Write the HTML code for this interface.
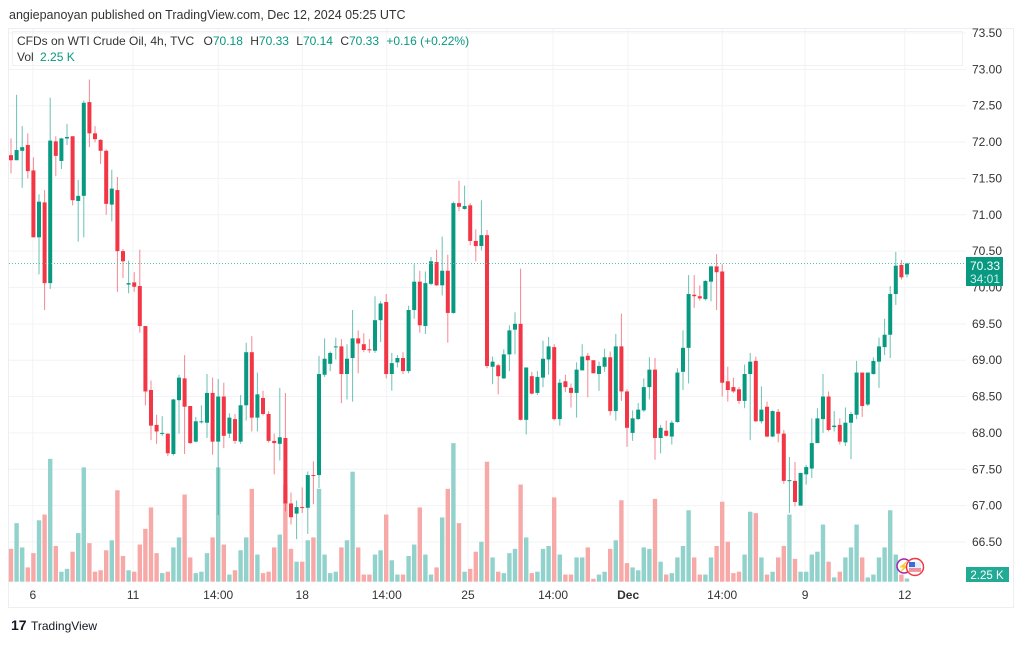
<!DOCTYPE html>
<html><head><meta charset="utf-8">
<style>
html,body{margin:0;padding:0;background:#fff;}
body{width:1024px;height:641px;overflow:hidden;font-family:"Liberation Sans",sans-serif;}
svg text{font-family:"Liberation Sans",sans-serif;}
</style></head>
<body>
<svg id="chart" width="1024" height="641" xmlns="http://www.w3.org/2000/svg">
  <rect x="0" y="0" width="1024" height="641" fill="#fff"/>
  <text x="9" y="19" font-size="12.5" fill="#333">angiepanoyan published on TradingView.com, Dec 12, 2024 05:25 UTC</text>
  <rect x="8.5" y="28.5" width="1005" height="579" fill="none" stroke="#eceef2"/>
  <g id="grid"></g>
  <g id="vols"></g>
  <g id="candles"></g>
  <line id="lastline" x1="9" x2="966" stroke="#4fbfae" stroke-width="1" stroke-dasharray="1,2"/>
  <g id="yaxis"></g>
  <g id="xaxis"></g>
  <g>
    <rect x="12.5" y="31.5" width="950" height="34" fill="none" stroke="#f0f1f4"/>
    <text x="17" y="45" font-size="12" fill="#333">CFDs on WTI Crude Oil, 4h, TVC
      <tspan dx="6">O</tspan><tspan fill="#089981">70.18</tspan>
      <tspan dx="4">H</tspan><tspan fill="#089981">70.33</tspan>
      <tspan dx="4">L</tspan><tspan fill="#089981">70.14</tspan>
      <tspan dx="4">C</tspan><tspan fill="#089981">70.33</tspan>
      <tspan dx="4" fill="#089981">+0.16 (+0.22%)</tspan></text>
    <text x="17" y="61" font-size="12" fill="#333">Vol <tspan dx="3" fill="#089981">2.25 K</tspan></text>
  </g>
  <g>
    <rect x="966" y="257" width="37" height="29" fill="#089981"/>
    <text x="985" y="270" font-size="12" fill="#fff" text-anchor="middle">70.33</text>
    <text x="985" y="283" font-size="12" fill="#cdeee8" text-anchor="middle">34:01</text>
  </g>
  <g>
    <rect x="966" y="567" width="43" height="15" fill="#22ab94"/>
    <text x="987" y="579" font-size="11.5" fill="#fff" text-anchor="middle">2.25 K</text>
  </g>
  <g>
    <circle cx="904" cy="566" r="7" fill="#fff" stroke="#9c27b0" stroke-width="1.5"/>
    <text x="904" y="570" font-size="10" fill="#9c27b0" text-anchor="middle">⚡</text>
    <circle cx="915" cy="567" r="8.5" fill="#fff" stroke="#f23645" stroke-width="1.5"/>
    <rect x="909" y="562" width="12" height="9" fill="#e8eefc"/>
    <rect x="909" y="562" width="6" height="5" fill="#3c6cd8"/>
    <line x1="909" y1="569" x2="921" y2="569" stroke="#f23645"/>
    <line x1="909" y1="571" x2="921" y2="571" stroke="#f23645"/>
  </g>
  <g>
    <text x="11" y="630" font-size="14" font-weight="bold" fill="#131722">17</text>
    <text x="31" y="630" font-size="12" fill="#131722">TradingView</text>
  </g>
</svg>
<script>
const opens=[71.82,71.75,71.88,71.96,71.61,70.69,71.17,70.06,72.01,71.74,72.05,72.08,71.19,71.26,72.55,72.12,72.03,71.88,71.14,71.34,70.50,70.04,70.07,70.02,69.47,68.59,68.11,67.99,67.99,67.71,68.45,68.75,68.37,67.88,68.15,68.14,68.55,67.88,68.50,67.99,68.19,67.88,68.38,69.11,68.21,68.48,68.26,67.89,67.85,67.93,67.03,66.89,66.98,66.97,67.42,67.42,68.80,68.95,69.18,69.19,68.81,69.03,69.30,69.22,69.15,69.13,69.55,69.80,68.81,68.97,69.03,68.85,69.69,70.08,69.47,70.05,70.35,70.03,70.23,69.65,71.16,71.08,71.13,70.64,70.57,70.72,68.91,68.93,68.75,69.08,69.42,69.50,68.18,68.78,68.55,68.76,69.01,69.18,68.19,68.71,68.62,68.55,68.86,69.06,69.00,68.81,68.91,69.04,68.30,69.19,68.57,68.00,68.19,68.31,68.63,68.87,67.93,68.03,67.95,68.15,68.84,69.17,69.90,69.88,69.84,70.08,70.29,70.22,68.71,68.63,68.60,68.44,68.81,68.99,68.16,68.36,67.95,68.29,67.99,67.34,67.34,67.00,67.43,67.51,67.86,68.19,68.50,68.08,68.11,67.87,68.14,68.25,68.83,68.39,68.81,68.98,69.18,69.35,69.91,70.31,70.18];
const highs=[72.05,72.65,72.22,72.12,71.79,71.28,71.34,72.61,72.08,72.06,72.25,72.08,71.48,72.57,72.86,72.22,72.04,71.90,71.62,71.52,70.53,70.37,70.21,70.52,69.47,68.72,68.25,68.23,67.99,68.47,68.80,69.07,68.37,68.22,68.38,68.81,68.76,68.74,68.69,68.27,68.26,68.52,69.24,69.33,68.83,68.58,68.30,67.99,68.62,68.55,67.18,67.07,67.25,67.47,67.61,69.06,69.30,69.12,69.31,69.29,69.22,69.69,69.41,69.37,69.29,69.88,69.81,69.91,69.10,69.07,69.11,69.75,70.32,70.23,70.22,70.42,70.52,70.70,70.45,71.18,71.47,71.40,71.16,70.80,71.20,70.79,69.05,68.95,69.15,69.48,69.66,70.26,68.90,68.84,68.85,69.27,69.32,69.22,68.74,68.80,68.68,68.97,69.22,69.10,69.00,68.98,69.16,69.12,69.36,69.64,68.60,68.31,68.41,68.75,69.04,69.03,68.11,68.17,68.17,68.89,69.41,70.17,70.17,70.03,70.10,70.30,70.46,70.32,68.91,68.76,68.63,68.94,69.10,69.05,68.64,68.43,68.31,68.33,68.04,67.67,67.60,67.45,67.56,68.20,68.34,68.81,68.57,68.30,68.20,68.35,68.29,68.99,68.83,68.83,69.04,69.31,69.57,70.02,70.49,70.38,70.34];
const lows=[71.57,71.75,71.37,71.50,70.69,70.18,69.69,69.98,71.53,71.63,71.96,71.13,70.63,70.69,71.93,72.00,71.70,71.00,70.91,69.94,70.13,69.92,69.94,69.38,68.38,67.90,67.85,67.96,67.68,67.69,67.99,67.71,67.85,67.87,68.13,67.93,67.70,66.87,67.79,67.93,67.85,67.85,68.17,68.02,68.02,68.24,67.87,67.43,67.62,66.92,66.74,66.54,66.90,66.61,67.02,67.24,68.77,68.85,69.01,68.41,68.46,68.43,68.82,69.11,69.10,69.10,69.25,68.75,68.58,68.90,68.81,68.82,69.57,69.38,69.36,70.03,70.02,69.89,69.24,69.64,71.05,71.07,70.58,70.36,70.51,68.89,68.67,68.53,68.74,68.85,69.08,68.17,67.98,68.53,68.52,68.63,68.80,68.17,68.10,68.56,68.35,68.21,68.86,68.49,68.82,68.58,68.84,68.24,68.17,68.44,67.81,67.89,68.18,68.29,68.46,67.63,67.72,67.95,67.84,68.14,68.59,68.68,69.72,69.82,69.82,69.81,69.69,68.50,68.43,68.55,68.40,68.34,67.90,68.15,68.13,67.94,67.94,67.87,67.30,66.90,66.99,67.00,67.29,67.38,67.86,68.00,68.02,68.02,67.84,67.82,67.64,68.19,68.22,68.37,68.80,68.62,69.07,69.03,69.76,70.11,70.14];
const closes=[71.75,71.89,71.93,71.60,70.69,71.18,70.06,72.02,71.81,72.05,72.07,71.20,71.26,72.54,72.12,72.04,71.88,71.15,71.36,70.50,70.36,70.06,70.01,69.47,68.57,68.10,68.02,68.00,67.72,68.46,68.76,68.36,67.86,68.16,68.16,68.55,67.88,68.50,67.96,68.21,67.89,68.38,69.11,68.21,68.53,68.26,67.89,67.86,67.94,67.03,66.84,66.98,66.97,67.42,67.41,68.81,69.02,69.10,69.19,68.81,69.02,69.30,69.23,69.14,69.14,69.55,69.78,68.81,68.96,69.03,68.85,69.69,70.08,69.48,70.06,70.36,70.03,70.23,69.65,71.16,71.11,71.12,70.64,70.57,70.72,68.92,68.98,68.78,69.08,69.41,69.50,68.18,68.90,68.54,68.77,69.02,69.19,68.19,68.69,68.63,68.55,68.87,69.05,69.00,68.82,68.92,69.04,68.30,69.19,68.57,68.07,68.20,68.32,68.63,68.87,67.93,68.07,67.96,68.14,68.83,69.17,69.91,69.88,69.85,70.09,70.29,70.21,68.69,68.59,68.57,68.44,68.81,68.98,68.16,68.32,67.95,68.30,67.99,67.34,67.35,67.05,67.45,67.53,67.86,68.20,68.50,68.04,68.10,67.88,68.14,68.26,68.83,68.37,68.83,68.99,69.19,69.35,69.91,70.30,70.14,70.33];
const volumesK=[23,41,24,10,20,43,47,86,25,7,9,21,34,80,27,7,8,22,29,64,18,8,7,26,37,52,20,6,7,24,31,61,17,6,7,20,31,80,26,5,8,22,31,65,19,6,7,24,33,68,23,14,14,29,31,65,19,6,7,24,29,77,24,5,5,19,22,47,15,5,5,18,26,52,19,5,10,45,65,97,41,7,9,21,28,84,17,7,6,20,23,68,31,6,7,23,25,59,19,5,5,17,17,24,2,5,7,23,29,57,13,10,8,24,23,58,14,5,6,17,25,50,17,5,5,17,25,56,28,6,7,19,49,48,17,5,7,17,25,47,16,7,7,19,21,40,14,3,7,17,24,40,17,3,5,17,24,50,19,5,2.25];
const priceTicks=[73.5,73.0,72.5,72.0,71.5,71.0,70.5,70.0,69.5,69.0,68.5,68.0,67.5,67.0,66.5];
const timeLabels=["6","11","14:00","18","14:00","25","14:00","Dec","14:00","9","12"];
const timeLabelBars=[3.9,21.8,37.0,52.0,67.1,81.6,96.8,110.2,127.0,141.8,159.6];
const lastPrice=70.33;

const NS="http://www.w3.org/2000/svg";
const X0=11, STEP=5.6;
function xScale(i){return X0+STEP*i;}
function yScale(p){return 33+(73.5-p)*72.71;}
const VOL_BASE=581.7, VOL_PX_PER_K=1/0.7;
function vScale(v){return v*VOL_PX_PER_K;}
function mk(tag,attrs,parent){const e=document.createElementNS(NS,tag);for(const k in attrs)e.setAttribute(k,attrs[k]);parent.appendChild(e);return e;}

const grid=document.getElementById('grid');
const yaxis=document.getElementById('yaxis');
priceTicks.forEach(p=>{
  const y=yScale(p);
  const l=mk('line',{x1:9,x2:966,y1:y,y2:y,stroke:'#f2f3f6','stroke-width':1},grid);
  
  
  const t=mk('text',{x:1002,y:y+4,'font-size':12,fill:'#333','text-anchor':'end'},yaxis);
  
  
  t.textContent=p.toFixed(2);
});
const xaxis=document.getElementById('xaxis');
timeLabels.forEach((lab,k)=>{
  const x=xScale(timeLabelBars[k]);
  const l=mk('line',{x1:x,x2:x,y1:29,y2:582,stroke:'#f2f3f6','stroke-width':1},grid);
  
  
  const t=mk('text',{x:x,y:599,'font-size':12,fill:'#333','text-anchor':'middle','font-weight':lab==='Dec'?'bold':'normal'},xaxis);
  
  
  t.textContent=lab;
});
const ll=document.getElementById('lastline');
ll.setAttribute('y1',yScale(lastPrice));ll.setAttribute('y2',yScale(lastPrice));

const vg=document.getElementById('vols');
const cg=document.getElementById('candles');
opens.forEach((o,i)=>{
  const c=closes[i],up=c>=o,x=xScale(i);
  const h=vScale(volumesK[i]);
  const vb=mk('rect',{x:x-2.2,y:VOL_BASE-h,width:4.4,height:h,fill:up?'#92d2cc':'#f7a9a7'},vg);
  
  
  const col=up?'#089981':'#f23645';
  const g=mk('g',{},cg);
  
  
  mk('line',{x1:x,x2:x,y1:yScale(highs[i]),y2:yScale(lows[i]),stroke:col,'stroke-opacity':0.6,'stroke-width':1},g);
  const yt=yScale(Math.max(o,c)),yb=yScale(Math.min(o,c));
  mk('rect',{x:x-2,y:yt,width:4,height:Math.max(1,yb-yt),fill:col},g);
});
</script>
</body></html>
